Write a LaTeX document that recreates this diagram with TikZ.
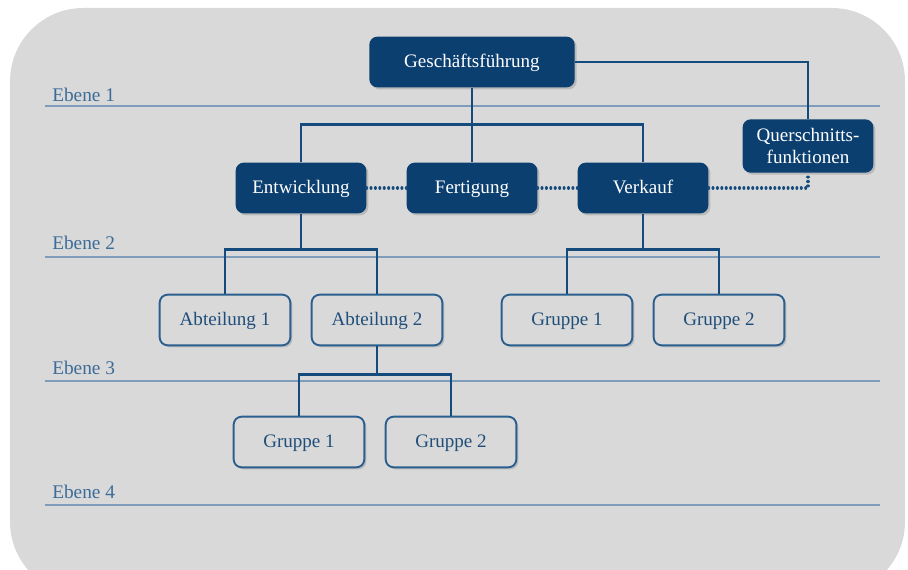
\documentclass[tikz,border=0pt]{standalone}
\usepackage{fontspec}
\setmainfont{Liberation Serif}
\usetikzlibrary{shadows}
\definecolor{bggray}{HTML}{D9D9D9}
\definecolor{navy}{HTML}{0B3F6F}
\definecolor{connblue}{HTML}{144A7C}
\definecolor{lightedge}{HTML}{2A5F8F}
\definecolor{lighttext}{HTML}{1F4E7A}
\definecolor{levelblue}{HTML}{3C6C98}
\definecolor{levelline}{HTML}{7F9DBB}
\tikzset{
  unitbox/.style={rounded corners=6pt, minimum width=98pt, minimum height=38pt,
    inner sep=2pt, font=\fontsize{14.3}{16}\selectfont,
    text height=2.1ex, text depth=0.2ex,
    drop shadow={opacity=0.35, shadow xshift=1.5pt, shadow yshift=-1.5pt}},
  dark/.style={unitbox, fill=navy, text=white},
  light/.style={unitbox, fill=bggray, draw=lightedge, line width=1.4pt, text=lighttext},
  conn/.style={draw=connblue, line width=1.9pt},
  dotline/.style={draw=connblue, line width=2.3pt, line cap=round, dash pattern=on 0.01pt off 3.3pt},
  levelrule/.style={draw=levelline, line width=0.8pt},
  ebene/.style={anchor=west, text=levelblue, font=\fontsize{14.5}{16}\selectfont, inner sep=0pt}
}
\begin{document}
\begin{tikzpicture}[x=0.75pt, y=-0.75pt]
\useasboundingbox (0,0) rectangle (908,570);
\fill[white] (0,0) rectangle (908,570);
\begin{scope}
  \clip (0,0) rectangle (908,570);
  \fill[bggray, rounded corners=55pt] (10,8) rectangle (905,595);
\end{scope}

% level rules and labels
\foreach \ly/\ty/\n in {106/95/1, 257/243/2, 381/368/3, 505/492/4} {
  \draw[levelrule] (45,\ly) -- (880,\ly);
  \node[ebene] (e\n) at (52,\ty) {Ebene \n};
}

% boxes
\node[dark, minimum width=154pt] (gf) at (472,62) {Geschäftsführung};
\node[dark] (ent) at (301,188) {Entwicklung};
\node[dark] (fer) at (472,188) {Fertigung};
\node[dark] (ver) at (643,188) {Verkauf};
\node[dark, align=center, minimum height=40pt, text height=, text depth=,
  font=\fontsize{14.3}{17}\selectfont] (qf) at (808,146) {Querschnitts-\\funktionen};

\node[light] (ab1) at (225,320) {Abteilung 1};
\node[light] (ab2) at (377,320) {Abteilung 2};
\node[light] (vg1) at (567,320) {Gruppe 1};
\node[light] (vg2) at (719,320) {Gruppe 2};
\node[light] (eg1) at (299,442) {Gruppe 1};
\node[light] (eg2) at (451,442) {Gruppe 2};

% connectors
\draw[conn] (gf.south) -- ++(0,37) coordinate (j1) -- (fer.north);
\draw[conn] (ent.north) |- (j1) -| (ver.north);
\draw[conn] (gf.east) -| (qf.north);

\draw[dotline] (ent.east) -- (fer.west);
\draw[dotline] (fer.east) -- (ver.west);
\draw[dotline] (ver.east) -| (qf.south);

\draw[conn] (ent.south) -- ++(0,36) coordinate (j2);
\draw[conn] (ab1.north) |- (j2) -| (ab2.north);
\draw[conn] (ver.south) -- ++(0,36) coordinate (j3);
\draw[conn] (vg1.north) |- (j3) -| (vg2.north);
\draw[conn] (ab2.south) -- ++(0,28) coordinate (j4);
\draw[conn] (eg1.north) |- (j4) -| (eg2.north);
\end{tikzpicture}
\end{document}
